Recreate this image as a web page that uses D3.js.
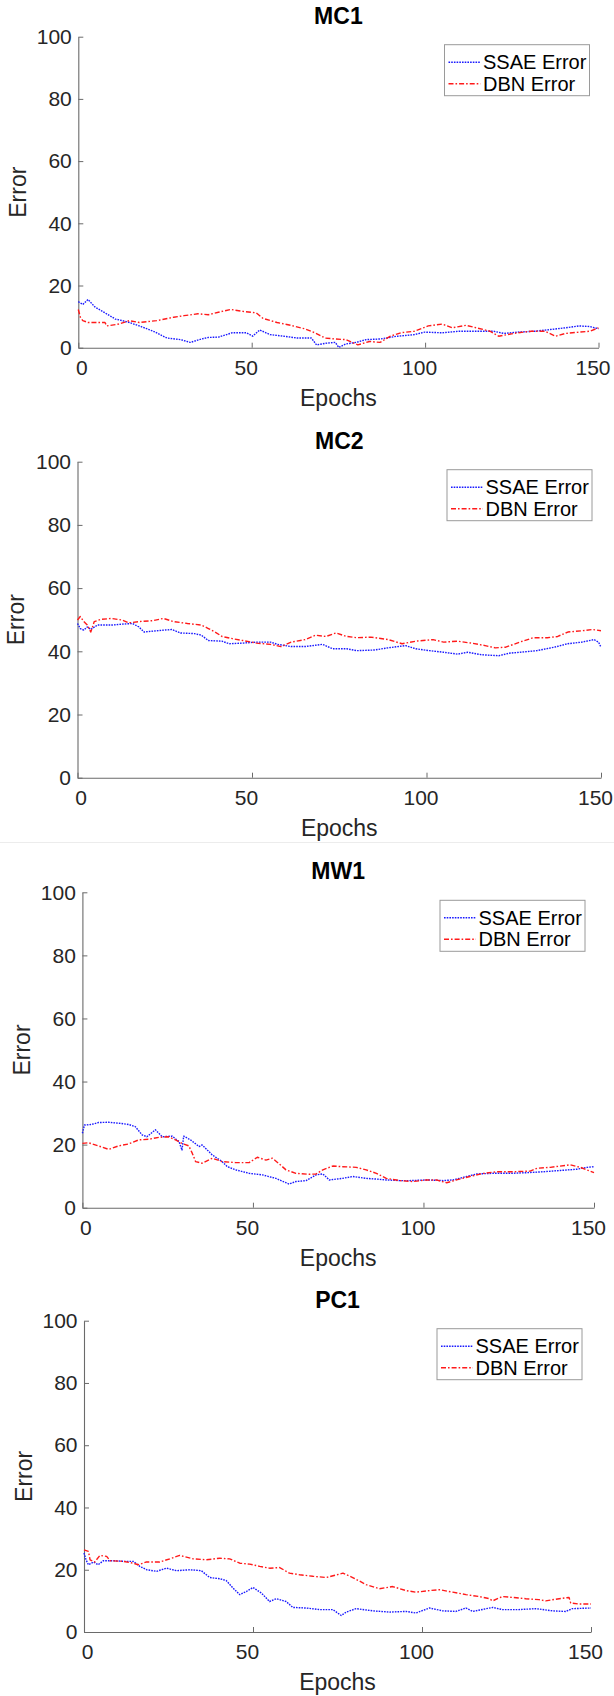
<!DOCTYPE html>
<html>
<head>
<meta charset="utf-8">
<script src="https://cdn.jsdelivr.net/npm/d3@7"></script>
<style>
  html, body { margin: 0; padding: 0; background: #fff; }
  svg { display: block; }
  text { font-family: "Liberation Sans", Arial, Helvetica, sans-serif; }
</style>
</head>
<body>
<script>
// ---------------- DATA ----------------
const panelTitles = ["MC1", "MC2", "MW1", "PC1"];
const seriesNames = ["SSAE Error", "DBN Error"];
const xTicks = [0, 50, 100, 150];
const yTicks = [0, 20, 40, 60, 80, 100];
const xLabel = "Epochs";
const yLabel = "Error";

const mc1Ssae = [[0,14.8],[1.3,13.9],[2.8,15.5],[4.8,13.1],[7.7,11.2],[10.7,9.2],[12.7,8.7],[14.7,8.1],[17.6,7.0],[21.6,5.3],[25.6,3.1],[29.5,2.6],[32.3,1.7],[35.5,2.8],[37.5,3.3],[40.4,3.4],[44.4,4.8],[48.4,4.8],[50.3,3.7],[52.3,5.7],[55.3,4.2],[59.3,3.7],[63.2,3.1],[67.2,3.1],[68.7,0.9],[71.2,1.4],[74.1,1.7],[75.1,0.1],[77.1,1.2],[80.1,1.7],[83,2.6],[87,2.8],[92,3.7],[96.9,4.2],[99.9,5.0],[104.9,4.8],[109.8,5.3],[114.8,5.3],[119.7,5.3],[122.7,4.6],[126.7,5.0],[131.6,5.3],[136.6,5.9],[140.5,6.4],[144.5,7.0],[147.5,6.8],[150,6.1]];
const mc1Dbn = [[0,12.3],[0.6,9.8],[1.3,8.7],[2.8,8.1],[7.7,8.1],[8.2,7.0],[11.7,7.6],[14.7,8.7],[17.6,8.1],[22.6,8.7],[27.5,9.8],[30.5,10.3],[34.5,10.9],[37.5,10.6],[40.4,11.4],[43.9,12.3],[47.4,11.7],[51.3,11.2],[53.3,9.4],[57.3,8.1],[61.2,7.2],[65.2,6.1],[68.2,4.8],[71.2,3.1],[74.1,2.8],[77.1,2.6],[80.6,0.9],[84,2.0],[87,1.7],[90,3.7],[93,4.8],[96.9,5.3],[100.9,7.0],[104.9,7.6],[107.8,6.4],[111.8,7.2],[114.8,6.4],[118.7,5.3],[121.2,3.7],[123.7,4.2],[126.7,4.8],[130.6,5.3],[134.6,5.3],[137.6,3.7],[140.5,4.6],[144.5,5.0],[147.5,5.3],[150,6.4]];

const mc2Ssae = [[0,48.8],[0.8,47.2],[1.8,46.7],[2.8,47.7],[3.8,46.9],[5.7,48.3],[9.7,48.3],[12.7,48.6],[15.7,48.8],[17.6,47.7],[19.1,46.1],[22.6,46.5],[27,46.9],[29.5,45.8],[33.5,45.6],[35.5,45.1],[37.5,43.4],[41.4,43.2],[43.4,42.4],[47.4,42.6],[51.3,42.9],[55.3,42.9],[57.3,42.2],[61.2,41.5],[65.2,41.5],[70.2,42.2],[73.1,40.8],[77.1,40.8],[80.1,40.2],[85,40.4],[89,41.1],[94,41.8],[96.9,40.8],[100.9,40.2],[104.9,39.7],[108.9,39.1],[111.8,39.7],[115.8,38.9],[120.7,38.6],[123.7,39.4],[126.7,39.7],[131.6,40.2],[136.6,41.3],[140.5,42.4],[144.5,42.9],[148,43.7],[149.3,42.9],[150,41.3]];
const mc2Dbn = [[0,49.9],[0.8,51.0],[1.8,49.4],[2.8,48.3],[3.8,46.1],[4.8,49.4],[6.7,50.1],[9.7,50.4],[12.7,49.9],[14.7,49.0],[17.6,49.4],[21.6,49.7],[24.6,50.4],[27.5,49.4],[31.5,48.8],[35.5,48.3],[37.5,47.2],[39.4,46.1],[41.4,44.7],[44.4,44.0],[47.4,43.4],[51.3,42.6],[55.3,42.2],[58.3,41.5],[61.2,42.9],[65.2,43.7],[68.2,45.1],[71.2,44.7],[74.1,45.8],[77.1,44.7],[80.1,44.3],[84,44.5],[89,43.7],[93,42.4],[96.9,43.2],[101.9,43.7],[104.9,42.9],[108.9,43.2],[112.8,42.6],[116.8,41.8],[119.7,41.1],[122.7,41.3],[126.7,42.9],[130.6,44.3],[134.6,44.3],[137.6,44.7],[140.5,46.1],[144.5,46.5],[147.5,46.9],[150,46.5]];

const mw1Ssae = [[0,23.6],[0.6,26.2],[2.7,26.4],[4.7,27.0],[7.7,27.1],[10.6,26.8],[13.5,26.4],[15.5,25.7],[17.5,23.1],[18.9,22.5],[21.4,24.7],[23.4,22.5],[26.3,22.7],[28.3,21.0],[29.2,18.3],[29.7,22.7],[31.7,21.5],[34.2,19.4],[35.1,19.9],[38.1,16.7],[41,14.6],[42.5,13.0],[44.9,12.0],[48.9,10.9],[52.8,10.4],[56.7,9.3],[60.6,7.5],[62.6,8.3],[65.6,8.6],[68.5,10.4],[70.5,10.7],[72.4,8.8],[76.3,9.3],[79.3,9.9],[83.2,9.3],[87.1,9.0],[89.1,8.8],[93,8.6],[96,8.6],[100.9,8.8],[105.8,8.6],[108.7,8.8],[112.7,9.9],[115.6,10.7],[120.5,10.9],[125.4,10.9],[130.3,11.1],[135.2,11.4],[140.1,11.8],[145,12.2],[148,12.8],[150,13.0]];
const mw1Dbn = [[0,20.4],[1.8,20.6],[4.7,19.6],[7.7,18.5],[10.6,19.6],[13.5,20.2],[16.5,21.5],[19.4,21.7],[22.4,22.3],[25.3,22.5],[27.3,21.5],[29.2,20.4],[31.2,19.6],[32.2,17.3],[33.2,14.6],[35.1,14.1],[38.1,15.7],[41,14.6],[44.9,14.3],[48.9,14.3],[51.3,16.0],[53.8,15.1],[55.7,15.7],[57.7,13.9],[59.7,12.0],[62.6,10.9],[66.5,10.6],[68.5,10.7],[70.5,12.0],[73.4,13.2],[76.3,13.0],[80.3,12.8],[83.2,12.0],[86.2,10.9],[89.1,9.3],[93,8.6],[97,8.3],[100.9,8.8],[103.8,8.8],[106.8,7.9],[109.7,8.8],[113.6,9.9],[117.6,10.9],[121.5,11.4],[126.4,11.4],[131.3,11.6],[133.3,12.5],[137.2,12.8],[143.1,13.6],[146,12.8],[150,11.1]];

const pc1Ssae = [[0,25.4],[0.6,23.2],[1.3,21.6],[2.8,22.5],[4.2,21.6],[5.7,22.9],[8.7,22.9],[11.6,22.7],[14.6,22.7],[16.5,21.1],[18.5,20.0],[21.5,19.5],[24.4,20.5],[27.4,19.7],[31.3,20.0],[34.7,19.7],[37.2,17.5],[40.2,17.1],[42.1,16.5],[44.1,14.1],[46.1,12.0],[48,13.0],[50,14.3],[52.5,12.5],[54.9,9.8],[56.9,10.7],[59.8,9.8],[61.8,7.9],[65.7,7.7],[69.7,7.2],[73.6,7.2],[76.1,5.3],[77.6,6.4],[80.5,7.5],[85.4,6.8],[90.4,6.4],[95.3,6.6],[98.2,6.1],[102.2,7.7],[106.1,6.8],[110,6.6],[113,7.7],[115,6.6],[120.9,7.9],[123.8,7.2],[128.7,7.2],[133.7,7.5],[138.6,6.8],[142.5,6.6],[144.5,7.5],[150,7.7]];
const pc1Dbn = [[0,26.4],[1.3,25.9],[1.8,23.2],[3.2,22.5],[4.7,24.6],[6.7,24.3],[7.7,22.9],[11.6,22.7],[14.6,22.1],[16,21.6],[18.5,22.5],[22.4,22.5],[25.4,23.5],[28.3,24.6],[32.3,23.5],[36.2,23.2],[40.2,23.7],[43.1,23.5],[46.1,22.1],[49,21.8],[52,21.1],[54.9,20.5],[57.9,20.7],[60.8,18.9],[63.8,18.4],[67.7,17.9],[71.7,17.5],[76.6,18.9],[79.5,17.5],[83.5,15.2],[87.4,13.9],[91.3,14.6],[95.3,13.3],[98.2,12.8],[102.2,13.3],[105.1,13.6],[109.1,12.8],[113,12.0],[116.9,11.4],[119.9,10.7],[120.9,10.0],[123.8,11.4],[126.8,11.1],[130.7,10.7],[134.6,10.4],[136.6,10.0],[140.6,10.7],[143.5,11.1],[144,9.3],[146.5,9.0],[150,9.0]];

const panelSeries = [[mc1Ssae, mc1Dbn], [mc2Ssae, mc2Dbn], [mw1Ssae, mw1Dbn], [pc1Ssae, pc1Dbn]];

// ---------------- LAYOUT ----------------
const W = 614, H = 1696;
// plot rectangles [left, right, top, bottom] per panel
const boxes = [
  [78.3, 598.5, 36.7, 347.7],
  [77.5, 601, 461.7, 777.7],
  [82.4, 594, 892.3, 1207.7],
  [84, 591, 1320.7, 1632]
];
const yLabelX = [17.6, 16.4, 22.3, 24.3];
const seriesStyle = [
  { color: "#1a1aff", dash: "1.6 1.1" },
  { color: "#ff1a1a", dash: "5 2 1.6 2" }
];

const svg = d3.select("body").append("svg")
  .attr("width", W).attr("height", H);

svg.append("rect").attr("width", W).attr("height", H).attr("fill", "#fff");
// faint seam between the stacked images
svg.append("line").attr("x1", 0).attr("x2", W).attr("y1", 842.5).attr("y2", 842.5)
  .attr("stroke", "#ececec").attr("stroke-width", 1);

panelTitles.forEach((title, i) => {
  const [l, r, t, b] = boxes[i];
  const x = d3.scaleLinear().domain([0, 150]).range([l, r]);
  const y = d3.scaleLinear().domain([0, 100]).range([b, t]);
  const g = svg.append("g");

  // axes
  const xAxis = d3.axisBottom(x).tickValues(xTicks).tickSizeInner(-5).tickSizeOuter(0).tickPadding(12);
  const yAxis = d3.axisLeft(y).tickValues(yTicks).tickSizeInner(-5).tickSizeOuter(0).tickPadding(6.5);

  const gx = g.append("g").attr("transform", `translate(0,${b})`).call(xAxis);
  const gy = g.append("g").attr("transform", `translate(${l},0)`).call(yAxis);
  [gx, gy].forEach(ax => {
    ax.select(".domain").attr("stroke", "#6a6a6a").attr("stroke-width", 1.1);
    ax.selectAll(".tick line").attr("stroke", "#6a6a6a").attr("stroke-width", 1);
    ax.selectAll(".tick text").attr("fill", "#262626")
      .style("font-size", "21px").style("font-family", "'Liberation Sans', Arial, sans-serif");
  });
  // x tick labels sit slightly left of their ticks in the source (first one slightly right)
  gx.selectAll(".tick text").attr("dx", d => d === 0 ? 3 : -6);

  // lines
  const line = d3.line().x(d => x(d[0])).y(d => y(d[1]));
  panelSeries[i].forEach((data, s) => {
    g.append("path").datum(data)
      .attr("d", line)
      .attr("fill", "none")
      .attr("stroke", seriesStyle[s].color)
      .attr("stroke-width", 1.4)
      .attr("stroke-dasharray", seriesStyle[s].dash)
      .attr("stroke-linejoin", "round");
  });

  // title
  g.append("text").attr("x", (l + r) / 2).attr("y", t - 21)
    .attr("text-anchor", "middle").attr("dominant-baseline", "central")
    .attr("font-weight", "bold").attr("font-size", 23).attr("fill", "#000")
    .text(title);

  // x label
  g.append("text").attr("x", (l + r) / 2).attr("y", b + 50)
    .attr("text-anchor", "middle").attr("dominant-baseline", "central")
    .attr("font-size", 23).attr("fill", "#262626")
    .text(xLabel);

  // y label
  g.append("text")
    .attr("transform", `translate(${yLabelX[i]},${(t + b) / 2}) rotate(-90)`)
    .attr("text-anchor", "middle").attr("dominant-baseline", "central")
    .attr("font-size", 23).attr("fill", "#262626")
    .text(yLabel);

  // legend
  const lw = 145, lh = 51;
  const lx = r - 9 - lw, ly = t + 8;
  const lg = g.append("g").attr("transform", `translate(${lx},${ly})`);
  lg.append("rect").attr("width", lw).attr("height", lh)
    .attr("fill", "#fff").attr("stroke", "#9a9a9a").attr("stroke-width", 1);
  seriesNames.forEach((name, s) => {
    const cy = 17.5 + s * 21.5;
    lg.append("line").attr("x1", 4).attr("x2", 36).attr("y1", cy).attr("y2", cy)
      .attr("stroke", seriesStyle[s].color).attr("stroke-width", 1.4)
      .attr("stroke-dasharray", seriesStyle[s].dash);
    lg.append("text").attr("x", 38.5).attr("y", cy)
      .attr("dominant-baseline", "central")
      .attr("font-size", 20).attr("fill", "#000")
      .text(name);
  });
});
</script>
</body>
</html>
